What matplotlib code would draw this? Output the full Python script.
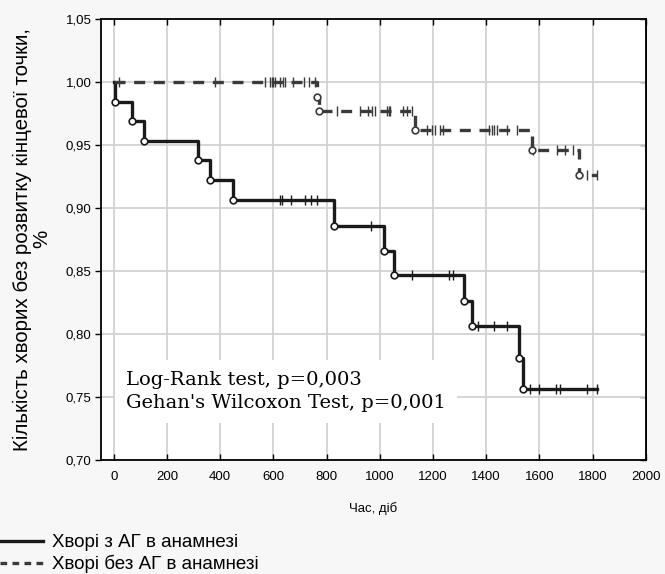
import numpy as np
import matplotlib
matplotlib.use("Agg")
import matplotlib.pyplot as plt
from matplotlib.lines import Line2D
from matplotlib.ticker import FuncFormatter

# Хворі з АГ в анамнезі: моменти подій і значення функції виживання
ag_event_t = [5, 68, 115, 315, 362, 448, 829, 1016, 1052, 1315, 1346, 1525, 1540]
ag_event_s = [0.984, 0.969, 0.953, 0.938, 0.922, 0.906, 0.886, 0.866, 0.847,
              0.826, 0.806, 0.781, 0.756]
ag_censor_t = [623, 632, 667, 720, 741, 763, 966, 1121, 1262, 1277, 1371, 1431,
               1478, 1565, 1600, 1663, 1678, 1778, 1816]

# Хворі без АГ в анамнезі
no_event_t = [763, 770, 1133, 1572, 1750]
no_event_s = [0.988, 0.977, 0.962, 0.946, 0.926]
no_censor_t = [21, 379, 569, 588, 594, 600, 607, 626, 636, 645, 673, 716, 735, 757,
               839, 926, 957, 970, 983, 1027, 1033, 1039, 1089, 1102, 1120,
               1177, 1196, 1208, 1225, 1237, 1412, 1421, 1430, 1440, 1478, 1515,
               1578, 1666, 1697, 1728, 1778, 1816]

t_end = 1816
x_ticks = list(range(0, 2001, 200))
y_ticks = [0.70, 0.75, 0.80, 0.85, 0.90, 0.95, 1.00, 1.05]

legend_labels = ["Хворі з АГ в анамнезі", "Хворі без АГ в анамнезі"]
stat_text = "Log-Rank test, p=0,003\nGehan's Wilcoxon Test, p=0,001"

sans = ['Liberation Sans', 'DejaVu Sans']
bg = '#f7f7f7'


def km_curve(ev_t, ev_s):
    t = np.concatenate([[0], ev_t, [t_end]])
    s = np.concatenate([[1.0], ev_s, [ev_s[-1]]])
    return t, s


def s_at(ev_t, ev_s, times):
    idx = np.searchsorted(ev_t, times, side='right')
    vals = np.concatenate([[1.0], ev_s])
    return vals[idx]


fig = plt.figure(figsize=(6.65, 5.74), dpi=100, facecolor=bg)
ax = fig.add_axes([0.152, 0.199, 0.819, 0.768])
ax.set_facecolor('white')

ax.set_xlim(-48, 2000)
ax.set_ylim(0.70, 1.05)
ax.set_xticks(x_ticks)
ax.set_yticks(y_ticks)
ax.grid(True, color='#d2d2d2', lw=1.3)
ax.set_axisbelow(True)
fmt = FuncFormatter(lambda v, p: f"{v:.2f}".replace('.', ','))
ax.yaxis.set_major_formatter(fmt)

c_ag = '#1a1a1a'
c_no = '#3a3a3a'

# криві
t, s = km_curve(ag_event_t, ag_event_s)
ax.step(t, s, where='post', color=c_ag, lw=2.4, zorder=3)
t, s = km_curve(no_event_t, no_event_s)
ax.step(t, s, where='post', color=c_no, lw=2.4, dashes=(3.3, 2.6), zorder=3)

# цензуровані
ax.plot(ag_censor_t, s_at(ag_event_t, ag_event_s, ag_censor_t), ls='none',
        marker='|', ms=7, mew=1.0, color=c_ag, zorder=4)
ax.plot(no_censor_t, s_at(no_event_t, no_event_s, no_censor_t), ls='none',
        marker='|', ms=7, mew=1.0, color=c_no, zorder=4)

# події (повні спостереження)
ax.plot(ag_event_t, ag_event_s, ls='none', marker='o', ms=4.8, mew=1.2,
        mfc='white', mec=c_ag, zorder=5)
ax.plot(no_event_t, no_event_s, ls='none', marker='o', ms=4.8, mew=1.2,
        mfc='white', mec=c_no, zorder=5)

ax.tick_params(axis='y', direction='out', length=4, width=1, labelsize=9.5, pad=3,
               right=False)
ax.tick_params(axis='x', direction='in', length=4, width=1, labelsize=9.5, pad=8,
               top=True)
for lab in ax.get_xticklabels() + ax.get_yticklabels():
    lab.set_family(sans)

# праві риски всередину
sec = ax.secondary_yaxis('right')
sec.set_yticks(y_ticks)
sec.tick_params(direction='in', length=4, width=1, labelright=False)
sec.spines['right'].set_linewidth(1.3)

for sp in ax.spines.values():
    sp.set_linewidth(1.3)
    sp.set_color('black')

ax.set_xlabel("Час, діб", family=sans, fontsize=9.5, labelpad=14)
ax.set_ylabel("Кількість хворих без розвитку кінцевої точки,\n%",
              family=sans, fontsize=14.8, labelpad=10, linespacing=1.05)

ax.text(0.045, 0.202, stat_text, transform=ax.transAxes, family='DejaVu Serif',
        fontsize=14, va='top', ha='left', linespacing=1.4, zorder=6,
        bbox=dict(facecolor='white', edgecolor='none', pad=8))

handles = [Line2D([], [], color=c_ag, lw=2.4),
           Line2D([], [], color=c_no, lw=2.4, dashes=(2.0, 1.6))]
leg = fig.legend(handles, legend_labels, loc='lower left', bbox_to_anchor=(-0.026, -0.028),
                 frameon=False, handlelength=2.3, handletextpad=0.5,
                 labelspacing=0.2, prop={'family': sans, 'size': 13.5})

fig.savefig("out.png", dpi=100, facecolor=bg)
